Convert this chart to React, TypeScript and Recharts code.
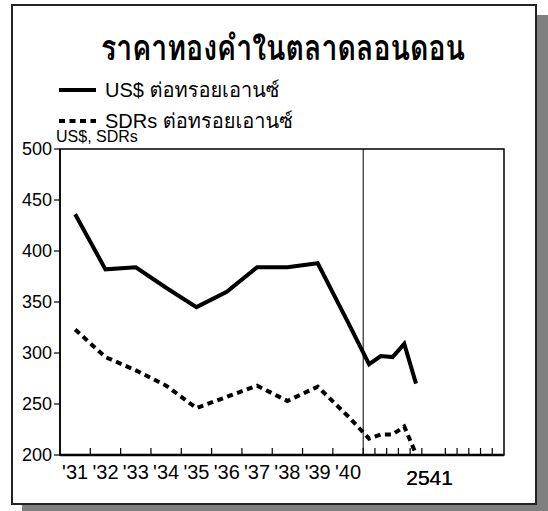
import {
  LineChart,
  Line,
  XAxis,
  YAxis,
  ReferenceLine,
  ReferenceArea,
  Legend,
} from "recharts";

const FONT = "'Liberation Sans', Arial, Loma, 'Tlwg Typo', sans-serif";

const years = ["'31", "'32", "'33", "'34", "'35", "'36", "'37", "'38", "'39", "'40"];
const usdYearly = [436, 382, 384, 364, 345, 360, 384, 384, 388, 330];
const sdrYearly = [323, 296, 283, 268, 246, 257, 268, 253, 267, 238];
const monthYear = "2541";
const monthCount = 12;
const usdMonthly = [289, 297, 296, 309, 270];
const sdrMonthly = [216, 220, 220, 228, 201];
const yTicks = [200, 250, 300, 350, 400, 450, 500];
const seriesNames = ["US$ ต่อทรอยเอานซ์", "SDRs ต่อทรอยเอานซ์"];

// a month slot is narrower than a year slot on the axis
const MONTH_W = 0.387;
const X_SPLIT = years.length;
const X_MAX = X_SPLIT + monthCount * MONTH_W;

const chartData = [
  ...years.map((_, i) => ({ x: i + 0.5, usd: usdYearly[i], sdr: sdrYearly[i] })),
  ...usdMonthly.map((v, m) => ({
    x: X_SPLIT + (m + 0.5) * MONTH_W,
    usd: v,
    sdr: sdrMonthly[m],
  })),
];

const labelAt: Record<string, string> = {};
years.forEach((y, i) => {
  labelAt[(i + 0.5).toFixed(3)] = y;
});
labelAt[(X_SPLIT + (monthCount * MONTH_W) / 2).toFixed(3)] = monthYear;

const boundaryTicks: number[] = [];
for (let i = 1; i <= X_SPLIT; i++) boundaryTicks.push(i);
for (let m = 1; m < monthCount; m++) boundaryTicks.push(X_SPLIT + m * MONTH_W);
const xTicks = [...boundaryTicks, ...Object.keys(labelAt).map(Number)].sort((a, b) => a - b);

// boundary ticks point up into the plot, centre ticks carry the labels
const XTick = (props: any) => {
  const { x, y, payload } = props;
  const label = labelAt[Number(payload.value).toFixed(3)];
  if (label === undefined) {
    return <line x1={x} y1={y} x2={x} y2={y - 7} stroke="#000" strokeWidth={1.2} />;
  }
  const big = label === monthYear;
  return (
    <text
      x={x + (big ? -4 : 0)}
      y={y + (big ? 30 : 24)}
      textAnchor="middle"
      fontSize={big ? 21 : 20}
      fontFamily={FONT}
      fill="#000"
    >
      {label}
    </text>
  );
};

const LegendContent = (props: any) => {
  const items = [...(props.payload || [])].sort(
    (a: any, b: any) => seriesNames.indexOf(a.value) - seriesNames.indexOf(b.value),
  );
  return (
    <div style={{ fontFamily: FONT, fontSize: 20, color: "#000" }}>
      {items.map((entry: any) => (
        <div
          key={entry.value}
          style={{ display: "flex", alignItems: "center", height: 31, whiteSpace: "nowrap" }}
        >
          <svg width={46} height={10} style={{ display: "block" }}>
            <line
              x1={0}
              y1={5}
              x2={37}
              y2={5}
              stroke="#000"
              strokeWidth={4}
              strokeDasharray={entry.payload?.strokeDasharray}
            />
          </svg>
          <span>{entry.value}</span>
        </div>
      ))}
    </div>
  );
};

export default function App() {
  return (
    <div style={{ position: "absolute", left: 0, top: 0, width: 548, height: 511, overflow: "hidden" }}>
      <div
        style={{
          position: "absolute",
          left: 22,
          top: 15,
          width: 526,
          height: 501,
          background: "#808080",
        }}
      />
      <div
        style={{
          position: "absolute",
          left: 11,
          top: 4,
          width: 526,
          height: 501,
          boxSizing: "border-box",
          border: "2px solid #222",
          background: "#fff",
        }}
      />
      <div
        style={{
          position: "absolute",
          left: 0,
          top: 27,
          width: 566,
          textAlign: "center",
          fontFamily: FONT,
          fontWeight: "bold",
          fontSize: 28.5,
          lineHeight: 1.2,
          color: "#000",
          transform: "scaleY(1.22)",
          transformOrigin: "50% 0",
        }}
      >
        ราคาทองคำในตลาดลอนดอน
      </div>
      <div
        style={{
          position: "absolute",
          left: 56,
          top: 128,
          fontFamily: FONT,
          fontSize: 16,
          color: "#000",
        }}
      >
        US$, SDRs
      </div>
      <div style={{ position: "absolute", left: 0, top: 0 }}>
        <LineChart
          width={548}
          height={511}
          data={chartData}
          margin={{ top: 149, right: 44, bottom: 26, left: 0 }}
        >
          <ReferenceArea
            x1={0}
            x2={X_MAX}
            y1={200}
            y2={500}
            fill="none"
            stroke="#000"
            strokeWidth={1.5}
            ifOverflow="visible"
          />
          <XAxis
            dataKey="x"
            type="number"
            domain={[0, X_MAX]}
            ticks={xTicks}
            interval={0}
            tick={<XTick />}
            tickLine={false}
            tickSize={0}
            tickMargin={0}
            height={30}
            axisLine={{ stroke: "#000", strokeWidth: 2.5 }}
          />
          <YAxis
            domain={[200, 500]}
            ticks={yTicks}
            interval={0}
            width={60}
            tickSize={6}
            tickMargin={2}
            tick={{ fill: "#000", fontSize: 18, fontFamily: FONT }}
            tickLine={{ stroke: "#000", strokeWidth: 1.2 }}
            axisLine={{ stroke: "#000", strokeWidth: 1.5 }}
          />
          <ReferenceLine x={X_SPLIT} stroke="#000" strokeWidth={1} />
          <Legend
            layout="vertical"
            align="center"
            verticalAlign="middle"
            wrapperStyle={{ left: 59, top: 74, width: 300 }}
            content={<LegendContent />}
          />
          <Line
            dataKey="usd"
            name={seriesNames[0]}
            stroke="#000"
            strokeWidth={4}
            dot={false}
            isAnimationActive={false}
          />
          <Line
            dataKey="sdr"
            name={seriesNames[1]}
            stroke="#000"
            strokeWidth={4}
            strokeDasharray="6 4.5"
            dot={false}
            isAnimationActive={false}
          />
        </LineChart>
      </div>
    </div>
  );
}
